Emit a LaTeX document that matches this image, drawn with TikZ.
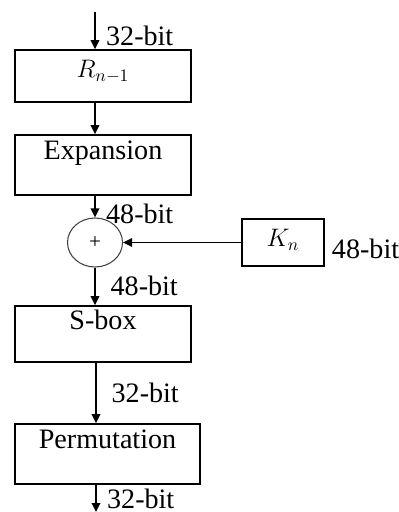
\documentclass[tikz,border=0pt]{standalone}
\usepackage{fontspec}
\setmainfont{Liberation Serif}
\usetikzlibrary{positioning,arrows.meta,shapes.geometric}
\tikzset{
	>={Triangle[length=0.18cm,width=0.17cm]},
	every node/.style={font=\fontsize{16}{19}\selectfont},
	block/.style={draw, rectangle, line width=1pt, inner ysep=0pt, minimum width=3.52cm},
	bits/.style={anchor=west, inner sep=1pt},
	flow/.style={->, line width=1pt},
}

\begin{document}
\begin{tikzpicture}
        \useasboundingbox (0,0) rectangle (7.96,10.24);
        \coordinate (in) at (1.90,10.00);
        \coordinate (out) at (1.92,0.00);
        \node[block, text height=0.56cm, text depth=0.48cm] (rn) at (2.06,8.72) {\fontsize{14}{16}\selectfont$R_{n-1}$};
        \node[block, text height=0.50cm, text depth=0.70cm] (exp) at (2.06,6.94) {Expansion};
        \node[draw=black!75, line width=0.6pt, ellipse, minimum width=1.1cm, minimum height=0.98cm, inner sep=0pt] (xor) at (1.90,5.39) {\fontsize{12}{14}\selectfont +};
        \node[block, minimum width=1.64cm, text height=0.56cm, text depth=0.38cm] (kn) at (5.66,5.39) {\fontsize{14}{16}\selectfont$K_n$};
        \node[bits] (knbits) at ([xshift=.1cm, yshift=-.13cm]kn.east) {48-bit};
        \node[block, text height=0.48cm, text depth=0.64cm] (sbox) at (2.06,3.56) {S-box};
        \node[block, minimum width=3.7cm, text height=0.50cm, text depth=0.70cm] (perm) at (2.15,1.16) {Permutation};
        \draw[flow] (in) -- node[bits, pos=.63, xshift=.17cm] {32-bit} (in |- rn.north);
        \draw[flow] (rn.south -| xor) -- (exp.north -| xor);
        \draw[flow] (exp.south -| xor) -- node[bits, pos=.85, xshift=.17cm] {48-bit} (xor.north);
        \draw[flow, line width=0.8pt] (kn.west) -- (xor.east);
        \draw[flow] (xor.south) -- node[bits, pos=.49, xshift=.26cm] {48-bit} (sbox.north -| xor);
        \draw[flow] (sbox.south -| out) -- node[bits, pos=.5, xshift=.26cm] {32-bit} (perm.north -| out);
        \draw[flow] (perm.south -| out) -- node[bits, pos=.5, xshift=.17cm] {32-bit} (out);
    \end{tikzpicture}
\end{document}
